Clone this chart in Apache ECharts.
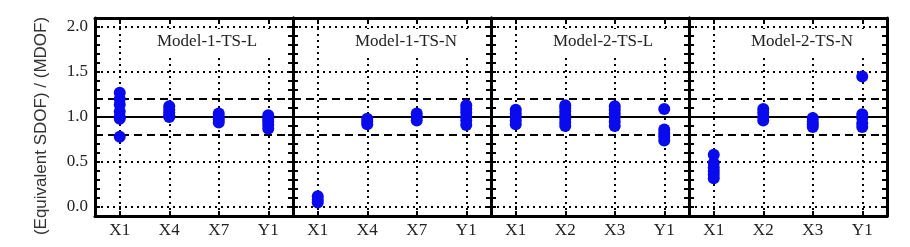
<!DOCTYPE html>
<html><head><meta charset="utf-8">
<script src="https://cdn.jsdelivr.net/npm/echarts@6/dist/echarts.min.js"></script>
<style>html,body{margin:0;padding:0;background:#fff}#c{width:910px;height:247px}</style>
</head><body><div id="c"></div>
<script>
// ---- data ----
const panelTitles = ['Model-1-TS-L', 'Model-1-TS-N', 'Model-2-TS-L', 'Model-2-TS-N'];
const categoriesModel1 = ['X1', 'X4', 'X7', 'Y1'];
const categoriesModel2 = ['X1', 'X2', 'X3', 'Y1'];
// values per category (ratio Equivalent SDOF / MDOF)
const model1TSL = [[1.27, 1.20, 1.14, 1.06, 1.00, 0.98, 0.78], [1.12, 1.08, 1.05, 1.02, 1.00], [1.04, 1.00, 0.97, 0.94], [1.02, 0.98, 0.95, 0.91, 0.87]];
const model1TSN = [[0.12, 0.08, 0.05], [0.98, 0.95, 0.92], [1.04, 1.00, 0.96], [1.13, 1.09, 1.05, 1.00, 0.96, 0.91]];
const model2TSL = [[1.08, 1.04, 1.00, 0.96, 0.92], [1.13, 1.10, 1.06, 1.02, 0.98, 0.94, 0.90], [1.12, 1.08, 1.04, 1.00, 0.95, 0.90], [1.09, 0.86, 0.82, 0.78, 0.74]];
const model2TSN = [[0.58, 0.49, 0.44, 0.40, 0.36, 0.32], [1.09, 1.05, 1.00, 0.96], [0.99, 0.95, 0.92, 0.89], [1.45, 1.03, 0.99, 0.93, 0.89]];
const yTickLabels = [0, 0.5, 1.0, 1.5, 2.0];
const dottedLevels = [0, 0.5, 1.5, 2.0];
const dashedLevels = [0.8, 1.2];
const solidLevel = 1.0;
const yAxisTitle = '(Equivalent SDOF) / (MDOF)';

const panels = [
  { title: panelTitles[0], cats: categoriesModel1, vals: model1TSL },
  { title: panelTitles[1], cats: categoriesModel1, vals: model1TSN },
  { title: panelTitles[2], cats: categoriesModel2, vals: model2TSL },
  { title: panelTitles[3], cats: categoriesModel2, vals: model2TSN }
];

// ---- layout ----
const gridLeft0 = 95, gridW = 198, gridTop = 18, gridH = 198;
const serif = 'Liberation Serif';
const frameLine = { show: true, onZero: false, lineStyle: { color: '#000', width: 3 } };
const tick = { show: true, inside: true, length: 5, lineStyle: { color: '#000', width: 2 } };
const dotted = { color: '#000', width: 2, type: [2, 4] };
const dashed = { color: '#000', width: 2, type: [8, 5] };
const solid = { color: '#000', width: 2, type: 'solid' };

const option = { animation: false, backgroundColor: '#fff', grid: [], xAxis: [], yAxis: [], series: [], title: [], graphic: [] };

panels.forEach((p, i) => {
  const left = gridLeft0 + i * gridW;
  option.grid.push({ left: left, top: gridTop, width: gridW, height: gridH });
  option.xAxis.push({
    gridIndex: i, type: 'category', data: p.cats, position: 'bottom', boundaryGap: true,
    axisLine: frameLine, axisTick: Object.assign({ alignWithLabel: true }, tick),
    axisLabel: { show: true, margin: 6, fontFamily: serif, fontSize: 17, color: '#222' },
    splitLine: { show: false }
  });
  option.xAxis.push({
    gridIndex: i, type: 'category', data: p.cats, position: 'top', boundaryGap: true,
    axisLine: frameLine, axisTick: Object.assign({ alignWithLabel: true }, tick),
    axisLabel: { show: false }, splitLine: { show: false }
  });
  option.yAxis.push({
    gridIndex: i, type: 'value', min: -0.1, max: 2.1, interval: 0.1, position: 'left',
    axisLine: frameLine, axisTick: tick, splitLine: { show: false },
    axisLabel: {
      show: i === 0, margin: 7, fontFamily: serif, fontSize: 17, color: '#222',
      formatter: v => yTickLabels.some(t => Math.abs(t - v) < 1e-6) ? v.toFixed(1) : ''
    }
  });
  option.yAxis.push({
    gridIndex: i, type: 'value', min: -0.1, max: 2.1, interval: 0.1, position: 'right',
    axisLine: frameLine, axisTick: tick, splitLine: { show: false }, axisLabel: { show: false }
  });

  const lines = [];
  dottedLevels.forEach(v => lines.push({ yAxis: v, lineStyle: dotted }));
  dashedLevels.forEach(v => lines.push({ yAxis: v, lineStyle: dashed }));
  lines.push({ yAxis: solidLevel, lineStyle: solid });
  p.cats.forEach(c => lines.push({ xAxis: c, lineStyle: dotted }));

  option.series.push({
    type: 'line', xAxisIndex: 2 * i, yAxisIndex: 2 * i, data: [], z: 1,
    markLine: { silent: true, symbol: 'none', label: { show: false }, animation: false, data: lines }
  });

  const pts = [];
  p.vals.forEach((arr, ci) => arr.forEach(v => pts.push([p.cats[ci], v])));
  option.series.push({
    type: 'scatter', xAxisIndex: 2 * i, yAxisIndex: 2 * i, z: 10,
    symbol: 'circle', symbolSize: 12, data: pts,
    itemStyle: { color: '#0a0aee', opacity: 1 }
  });

  option.title.push({
    text: p.title, left: left + 52, top: 29, padding: [3, 18, 3, 10], backgroundColor: '#fff',
    textStyle: { fontFamily: serif, fontSize: 17, fontWeight: 'normal', color: '#222', lineHeight: 20 }
  });
});

option.graphic.push({
  type: 'text', x: 41, y: 126, rotation: Math.PI / 2,
  style: { text: yAxisTitle, font: '17px "Liberation Sans"', fill: '#333', textAlign: 'center', textVerticalAlign: 'middle' }
});

const chart = echarts.init(document.getElementById('c'), null, { renderer: 'canvas' });
chart.setOption(option);
</script>
</body></html>
